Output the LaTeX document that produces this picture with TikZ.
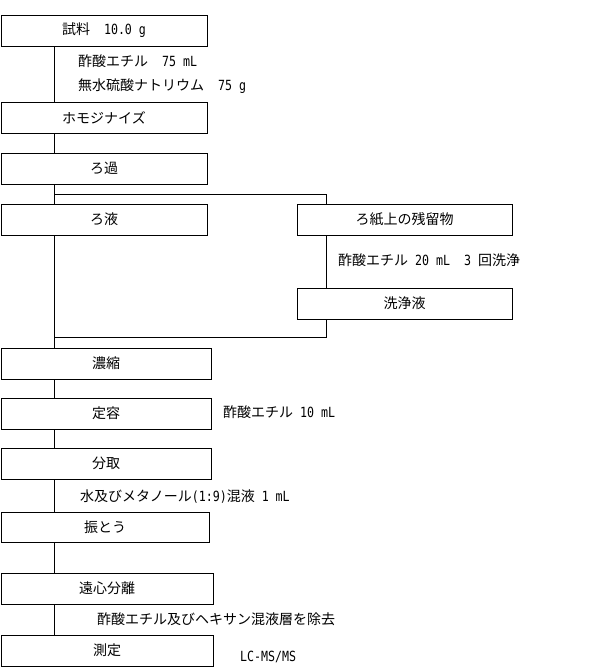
\documentclass[tikz,border=0pt]{standalone}
\usepackage{fontspec}
\setmainfont{Noto Sans CJK JP}
\newfontfamily\hw{DejaVu Sans Mono}[FakeStretch=0.83]
\begin{document}
\begin{tikzpicture}[x=1pt,y=-1pt,
  box/.style={draw, line width=0.9pt, minimum height=31pt, inner sep=0pt, font=\fontsize{14}{15}\selectfont},
  lbl/.style={anchor=west, inner sep=0pt, font=\fontsize{14}{15}\selectfont},
  conn/.style={line width=0.9pt}]
\useasboundingbox (0,0) rectangle (600,669);
\node[box, minimum width=206pt] (b1) at (104,30.5) {試料\hspace{1em}{\hw 10.0 g}};
\node[box, minimum width=206pt] (b2) at (104,117.5) {ホモジナイズ};
\node[box, minimum width=206pt] (b3) at (104,168.5) {ろ過};
\node[box, minimum width=206pt] (b4) at (104,219.5) {ろ液};
\node[box, minimum width=215pt] (b5) at (404.5,219.5) {ろ紙上の残留物};
\node[box, minimum width=215pt] (b6) at (404.5,303.5) {洗浄液};
\node[box, minimum width=210pt] (b7) at (106,363.5) {濃縮};
\node[box, minimum width=210pt] (b8) at (106,413.5) {定容};
\node[box, minimum width=210pt] (b9) at (106,463.5) {分取};
\node[box, minimum width=208pt, minimum height=30pt] (b10) at (105,527) {振とう};
\node[box, minimum width=212pt] (b11) at (107,588.5) {遠心分離};
\node[box, minimum width=212pt] (b12) at (107,650.5) {測定};
\node[lbl] (t1) at (78,61) {酢酸エチル\hspace{1em}{\hw 75 mL}};
\node[lbl] (t2) at (78,86) {無水硫酸ナトリウム\hspace{1em}{\hw 75 g}};
\node[lbl] (t3) at (338,260) {酢酸エチル{\hw\ 20 mL\ \ 3 }回洗浄};
\node[lbl] (t4) at (223,412) {酢酸エチル{\hw\ 10 mL}};
\node[lbl] (t5) at (80,497) {水及びメタノール{\hw (1:9)}混液{\hw\ 1 mL}};
\node[lbl] (t6) at (97,619) {酢酸エチル及びヘキサン混液層を除去};
\node[lbl] (t7) at (240,657) {\hw LC-MS/MS};
\coordinate (L) at (54,0);
\coordinate (R) at (326,0);
\coordinate (br) at (326,194);
\coordinate (jn) at (326,337);
\draw[conn] (b1.south -| L) -- (b2.north -| L);
\draw[conn] (b2.south -| L) -- (b3.north -| L);
\draw[conn] (b3.south -| L) -- (b4.north -| L);
\draw[conn] (L |- br) -- (br) -- (b5.north -| R);
\draw[conn] (b5.south -| R) -- (b6.north -| R);
\draw[conn] (b6.south -| R) -- (jn) -- (jn -| L);
\draw[conn] (b4.south -| L) -- (b7.north -| L);
\draw[conn] (b7.south -| L) -- (b8.north -| L);
\draw[conn] (b8.south -| L) -- (b9.north -| L);
\draw[conn] (b9.south -| L) -- (b10.north -| L);
\draw[conn] (b10.south -| L) -- (b11.north -| L);
\draw[conn] (b11.south -| L) -- (b12.north -| L);
\end{tikzpicture}
\end{document}
